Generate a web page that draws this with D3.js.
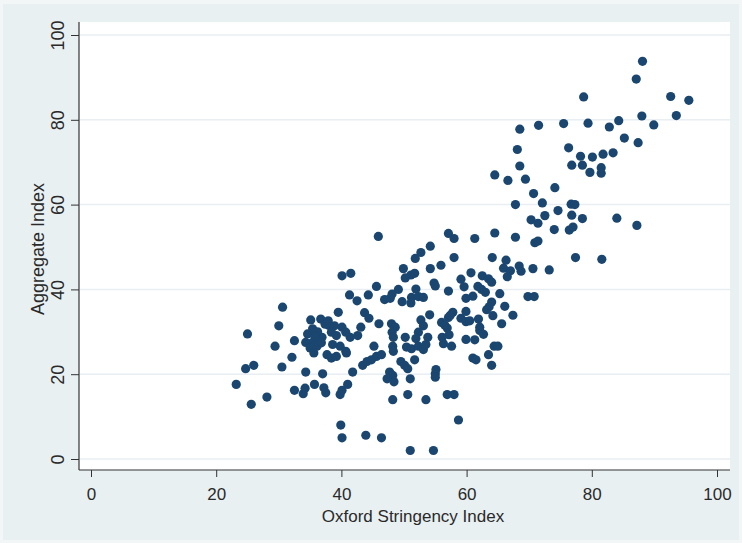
<!DOCTYPE html>
<html>
<head>
<meta charset="utf-8">
<script src="https://cdn.jsdelivr.net/npm/d3@7"></script>
<style>
  html, body { margin: 0; padding: 0; background: #f3f6f7; }
  svg { display: block; }
  text { font-family: "Liberation Sans", Arial, sans-serif; fill: #2a2a2a; }
</style>
</head>
<body>
<svg id="chart" width="742" height="543"></svg>
<script>
// Oxford Stringency Index (x) against Aggregate Index (y), one point per observation
const stringency = [
  88.1,87.1,78.7,92.6,95.5,88.0,93.5,89.9,84.3,82.8,79.4,75.5,71.5,68.5,85.2,87.4,76.3,68.1,83.4,81.8,
  78.2,80.1,76.8,78.5,68.5,81.5,79.7,81.5,64.5,66.6,69.4,74.1,70.7,67.8,72.1,76.7,77.3,74.6,70.3,72.5,
  71.4,76.8,78.5,84.0,74.0,76.4,77.0,87.2,77.4,81.6,
  64.5,67.8,70.9,71.4,61.3,57.1,58.0,45.9,54.2,52.7,51.8,58.0,64.1,66.3,68.4,65.9,67.0,70.6,73.2,68.7,
  66.5,55.9,54.2,49.9,51.1,50.2,51.7,60.7,62.5,63.5,64.0,59.1,54.8,55.0,59.6,61.8,62.4,63.0,57.1,51.9,
  49.1,45.6,40.1,41.5,41.3,42.5,44.3,46.9,47.8,48.1,49.7,51.2,52.3,53.1,51.1,59.9,61.0,65.3,64.0,69.8,
  70.8,66.1,63.6,67.4,64.2,61.9,59.9,59.1,57.8,57.1,56.0,54.1,52.7,53.1,52.3,51.9,53.8,50.2,56.9,57.2,
  56.1,56.3,57.6,59.9,61.3,62.1,62.1,59.9,64.4,65.0,63.5,61.0,61.5,64.0,
  48.0,48.6,48.1,43.7,44.4,46.0,43.1,42.6,41.4,39.5,38.9,38.0,40.1,40.7,38.4,39.2,35.1,36.7,35.4,34.6,
  36.0,36.9,35.4,34.3,36.1,35.0,35.6,37.7,38.4,39.8,40.7,40.8,39.2,30.6,30.0,29.4,32.5,32.1,30.5,25.0,
  24.7,26.0,23.2,25.6,28.1,32.5,33.9,34.2,34.3,35.7,37.0,37.5,37.2,39.8,40.1,41.0,41.8,43.4,44.1,44.8,
  45.2,45.6,46.4,47.7,48.2,47.3,48.4,48.2,48.3,48.2,48.3,49.5,50.1,50.6,51.0,50.6,53.5,55.0,55.1,55.0,
  56.9,58.0,58.7,39.9,40.1,43.9,46.4,51.0,54.7,50.4,51.2,52.3,53.1,53.5,51.7,
  36.2,37.4,36.8,35.8,38.6,37.9,56.5,57.4,62.7,65.6,63.2,60.5
];
const aggregate = [
  93.8,89.6,85.4,85.5,84.6,80.9,81.0,78.8,79.8,78.3,79.2,79.1,78.7,77.8,75.7,74.6,73.4,73.0,72.2,71.9,
  71.4,71.2,69.3,69.3,69.1,68.7,67.6,67.4,67.0,65.7,66.0,64.0,62.6,60.0,60.4,60.1,60.0,58.6,56.4,57.4,
  55.6,57.5,56.7,56.8,54.1,54.0,54.7,55.1,47.5,47.1,
  53.3,52.3,51.0,51.4,52.0,53.2,52.0,52.5,50.2,48.7,47.3,47.5,47.5,46.9,45.5,45.0,44.4,44.9,44.6,44.3,
  43.0,45.7,44.9,44.9,43.4,42.7,43.8,43.9,43.2,42.5,41.7,42.4,41.5,40.8,40.6,40.7,40.0,39.3,39.6,40.1,
  40.0,40.7,43.2,43.8,38.7,37.3,38.7,37.6,37.9,38.9,37.1,38.1,38.3,38.1,36.8,37.9,38.4,39.0,37.0,38.3,
  38.3,36.0,35.9,33.9,33.8,33.0,34.8,33.2,34.6,33.4,32.2,34.0,32.8,31.4,29.9,28.4,28.7,28.7,30.9,29.3,
  28.7,27.2,26.6,28.2,28.1,31.1,30.3,32.4,26.6,26.6,24.6,23.8,23.4,22.1,
  31.9,31.1,29.9,34.5,33.2,31.9,31.1,29.1,28.7,34.6,31.4,31.5,31.1,29.9,29.9,29.1,32.8,33.0,30.7,29.5,
  28.7,28.7,27.5,27.5,26.6,26.2,25.0,24.6,23.8,26.6,25.4,25.0,24.2,35.8,31.4,26.6,27.9,24.0,21.7,29.5,
  21.3,22.1,17.6,12.9,14.6,16.2,15.4,16.7,20.5,17.6,20.1,15.6,16.8,15.2,16.2,17.6,20.5,22.1,23.0,23.4,
  26.6,24.2,24.6,20.5,19.7,18.9,18.2,14.0,28.7,26.6,25.4,23.0,22.1,21.3,18.9,15.2,14.0,20.1,21.1,19.3,
  15.2,15.2,9.2,8.0,5.0,5.6,5.0,2.0,2.0,26.4,26.0,26.6,25.8,27.0,23.4,
  30.0,31.8,27.4,28.9,27.0,32.6,31.6,33.9,29.4,31.9,35.2,32.6
];
const tickValues = [0, 20, 40, 60, 80, 100];
const xTitle = "Oxford Stringency Index";
const yTitle = "Aggregate Index";

const points = stringency.map((s, i) => ({ x: s, y: aggregate[i] }));

const W = 742, H = 543;
// plot region frame (pixels)
const frame = { left: 79, right: 730, top: 22, bottom: 470 };

const svg = d3.select("#chart");

// graph region background
svg.append("rect")
  .attr("x", 3).attr("y", 4).attr("width", W - 6).attr("height", H - 7)
  .attr("fill", "#e9f0f2");

// white plot region
svg.append("rect")
  .attr("x", frame.left).attr("y", frame.top)
  .attr("width", frame.right - frame.left).attr("height", frame.bottom - frame.top)
  .attr("fill", "#ffffff");

const x = d3.scaleLinear().domain([0, 100]).range([91, 717]);
const y = d3.scaleLinear().domain([0, 100]).range([459, 35]);

// horizontal gridlines at the y ticks
svg.append("g").selectAll("line")
  .data(tickValues)
  .join("line")
  .attr("x1", frame.left + 1).attr("x2", frame.right)
  .attr("y1", d => y(d)).attr("y2", d => y(d))
  .attr("stroke", "#e8eef1").attr("stroke-width", 1.5);

// markers
svg.append("g").selectAll("circle")
  .data(points)
  .join("circle")
  .attr("cx", d => x(d.x))
  .attr("cy", d => y(d.y))
  .attr("r", 4.6)
  .attr("fill", "#1a4670");

// x axis
const xAxis = svg.append("g")
  .attr("transform", `translate(0,${frame.bottom})`)
  .call(d3.axisBottom(x).tickValues(tickValues).tickSize(7).tickFormat(d3.format("d")));
xAxis.select(".domain").remove();
xAxis.selectAll(".tick line").attr("stroke", "#333").attr("stroke-width", 1);
xAxis.selectAll(".tick text")
  .attr("y", 30).attr("dy", null)
  .style("font-size", "17px")
  .style("font-family", "'Liberation Sans', Arial, sans-serif")
  .attr("fill", "#2a2a2a");

// y axis
const yAxis = svg.append("g")
  .attr("transform", `translate(${frame.left},0)`)
  .call(d3.axisLeft(y).tickValues(tickValues).tickSize(8).tickFormat(d3.format("d")));
yAxis.select(".domain").remove();
yAxis.selectAll(".tick line").attr("stroke", "#333").attr("stroke-width", 1);
yAxis.selectAll(".tick text")
  .attr("x", null).attr("dy", null)
  .attr("text-anchor", "middle")
  .attr("transform", `translate(${64 - frame.left},0) rotate(-90)`)
  .style("font-size", "18px")
  .style("font-family", "'Liberation Sans', Arial, sans-serif")
  .attr("fill", "#2a2a2a");

// axis lines along the plot region
svg.append("line")
  .attr("x1", frame.left).attr("x2", frame.left)
  .attr("y1", frame.top).attr("y2", frame.bottom)
  .attr("stroke", "#333").attr("stroke-width", 1.2);
svg.append("line")
  .attr("x1", frame.left).attr("x2", frame.right)
  .attr("y1", frame.bottom).attr("y2", frame.bottom)
  .attr("stroke", "#333").attr("stroke-width", 1.2);

// axis titles
svg.append("text")
  .attr("x", 413).attr("y", 522)
  .attr("text-anchor", "middle")
  .style("font-size", "17px")
  .text(xTitle);
svg.append("text")
  .attr("transform", "translate(44,249) rotate(-90)")
  .attr("text-anchor", "middle")
  .style("font-size", "18px")
  .text(yTitle);
</script>
</body>
</html>
